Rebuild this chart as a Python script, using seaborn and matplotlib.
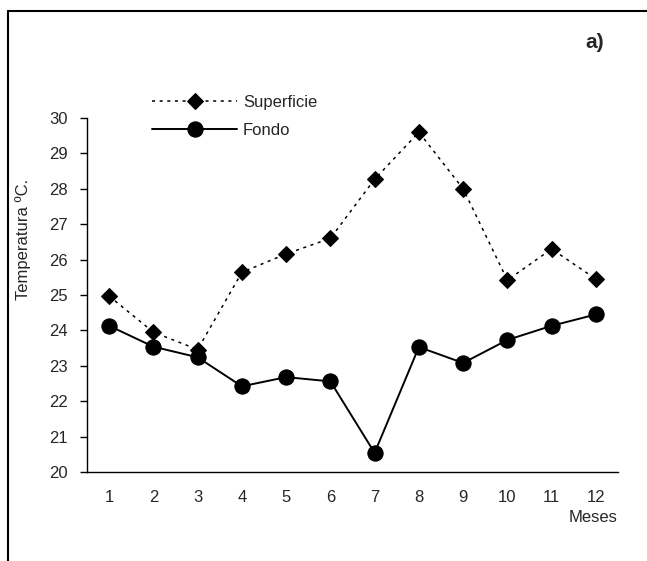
import matplotlib.pyplot as plt
import seaborn as sns
import pandas as pd
from matplotlib.lines import Line2D

# Datos
meses = [1, 2, 3, 4, 5, 6, 7, 8, 9, 10, 11, 12]
superficie = [24.97, 23.95, 23.46, 25.64, 26.16, 26.60, 28.27, 29.60, 28.00, 25.42, 26.30, 25.45]
fondo = [24.13, 23.54, 23.24, 22.42, 22.68, 22.56, 20.54, 23.53, 23.08, 23.73, 24.13, 24.45]
y_ticks = [20, 21, 22, 23, 24, 25, 26, 27, 28, 29, 30]

df = pd.DataFrame({'mes': meses * 2,
                   'temp': superficie + fondo,
                   'serie': ['Superficie'] * 12 + ['Fondo'] * 12})

sns.set_style('white')
plt.rcParams['font.family'] = ['Liberation Sans', 'DejaVu Sans']

fig = plt.figure(figsize=(6.47, 5.61), dpi=100)
ax = fig.add_axes([87 / 647, 89 / 561, 531 / 647, 354 / 561])

sup = df[df['serie'] == 'Superficie']
fon = df[df['serie'] == 'Fondo']
sns.lineplot(data=sup, x='mes', y='temp', ax=ax, color='black', linewidth=1.1,
             linestyle=(0, (2, 3)), marker='D', markersize=8,
             markeredgecolor='black', label='Superficie')
sns.lineplot(data=fon, x='mes', y='temp', ax=ax, color='black', linewidth=1.4,
             marker='o', markersize=11, markeredgecolor='black', label='Fondo')

ax.set_xlim(0.5, 12.5)
ax.set_ylim(20, 30)
ax.set_yticks(y_ticks)
ax.set_xticks(meses)
ax.set_xticks([m + 0.5 for m in [0] + meses], minor=True)
ax.tick_params(axis='x', which='major', length=0, pad=13, labelsize=12)
ax.tick_params(axis='x', which='minor', length=5, width=1, color='black', direction='out')
ax.tick_params(axis='y', length=5, width=1, color='black', direction='out', pad=9, labelsize=12)
ax.tick_params(left=True, bottom=True)
ax.set_xlabel('')
ax.set_ylabel('')
for s in ['top', 'right']:
    ax.spines[s].set_visible(False)
for s in ['left', 'bottom']:
    ax.spines[s].set_color('black')
    ax.spines[s].set_linewidth(1)

leg = ax.legend(loc='center left', bbox_to_anchor=(152 / 647, 1 - 116.5 / 561),
                bbox_transform=fig.transFigure, frameon=False, fontsize=12,
                handlelength=5.1, handletextpad=0.35, labelspacing=0.75,
                borderpad=0, borderaxespad=0)

fig.text(618 / 647, 1 - 517 / 561, 'Meses', ha='right', va='center', fontsize=12)
fig.text(23 / 647, 1 - 239.5 / 561, 'Temperatura ºC.', rotation=90,
         ha='center', va='center', fontsize=12)
fig.text(595 / 647, 1 - 43 / 561, 'a)', ha='center', va='center',
         fontsize=15, fontweight='bold')

# marco exterior
fig.add_artist(Line2D([7.5 / 647, 7.5 / 647], [0, 1 - 11 / 561], color='black',
                      linewidth=1.5, transform=fig.transFigure))
fig.add_artist(Line2D([7.5 / 647, 1], [1 - 11 / 561, 1 - 11 / 561], color='black',
                      linewidth=1.5, transform=fig.transFigure))

fig.savefig('out.png', dpi=100)
